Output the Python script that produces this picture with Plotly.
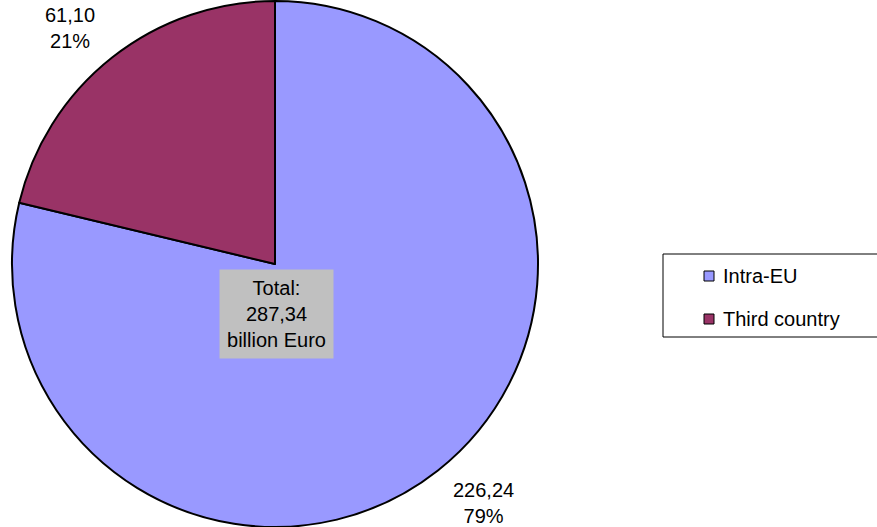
import plotly.graph_objects as go

# Export value by destination (billion Euro)
categories = ["Intra-EU", "Third country"]
values = [226.24, 61.10]
colors = ["#9999FF", "#993366"]

W, H = 877, 527
FONT = "Liberation Sans, Arial, sans-serif"
FS = 20

total = sum(values)


def fmt(v):
    return f"{v:.2f}".replace(".", ",")


def px(x):
    return x / W


def py(y):
    return 1 - y / H


# Pie centre and radius in pixels
cx, cy, r = 275, 264, 263

fig = go.Figure()
fig.add_trace(go.Pie(
    labels=categories,
    values=values,
    sort=False,
    direction="clockwise",
    rotation=0,
    marker=dict(colors=colors, line=dict(color="black", width=2)),
    textinfo="none",
    hoverinfo="label+value+percent",
    showlegend=False,
    domain=dict(x=[px(cx - r), px(cx + r)], y=[py(cy + r), py(cy - r)]),
))

annotations = []

# Value / share labels outside the slices
label_pos = [(484, 503), (70, 28)]
for v, (lx, ly) in zip(values, label_pos):
    annotations.append(dict(
        x=px(lx), y=py(ly), xref="paper", yref="paper",
        text=f"{fmt(v)}<br>{round(v / total * 100)}%",
        showarrow=False, xanchor="center", yanchor="middle", align="center",
        font=dict(family=FONT, size=FS, color="black"),
    ))

# Total box in the middle of the pie
annotations.append(dict(
    x=px(276), y=py(314), xref="paper", yref="paper",
    text=f"Total:<br>{fmt(total)}<br>billion Euro",
    showarrow=False, xanchor="center", yanchor="middle", align="center",
    bgcolor="#C0C0C0", width=113, height=88, borderpad=0,
    font=dict(family=FONT, size=FS, color="black"),
))

# Legend box
shapes = [dict(
    type="rect", xref="paper", yref="paper",
    x0=px(663), x1=px(880), y0=py(337), y1=py(254),
    line=dict(color="black", width=1), fillcolor="white", layer="below",
)]
legend_rows = [276, 319]
for name, col, ry in zip(categories, colors, legend_rows):
    shapes.append(dict(
        type="rect", xref="paper", yref="paper",
        x0=px(704), x1=px(714), y0=py(ry + 5), y1=py(ry - 5),
        line=dict(color="black", width=1), fillcolor=col,
    ))
    annotations.append(dict(
        x=px(721), y=py(ry), xref="paper", yref="paper",
        text=name, showarrow=False, xanchor="left", yanchor="middle",
        font=dict(family=FONT, size=FS, color="black"),
    ))

fig.update_layout(
    width=W, height=H,
    margin=dict(l=0, r=0, t=0, b=0),
    paper_bgcolor="white", plot_bgcolor="white",
    annotations=annotations, shapes=shapes,
    showlegend=False,
)

fig.write_html("out.html")
